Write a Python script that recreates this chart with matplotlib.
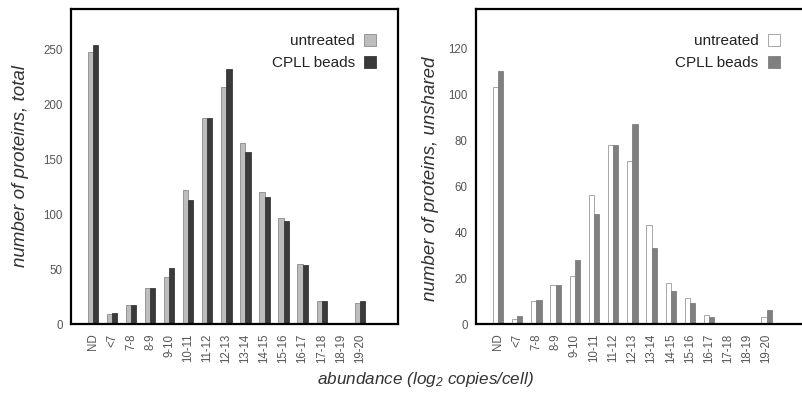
import numpy as np
import matplotlib
matplotlib.use("Agg")
import matplotlib.pyplot as plt

plt.rcParams['font.family'] = ['Liberation Sans', 'DejaVu Sans']
plt.rcParams['mathtext.default'] = 'regular'

# abundance bins (log2 copies/cell)
bins = ['ND', '<7', '7-8', '8-9', '9-10', '10-11', '11-12', '12-13', '13-14',
        '14-15', '15-16', '16-17', '17-18', '18-19', '19-20']

# total proteins per bin
total_untreated = [248, 9, 17, 33, 43, 122, 188, 216, 165, 120, 97, 55, 21, 0, 19]
total_cpll = [254, 10, 17, 33, 51, 113, 188, 232, 157, 116, 94, 54, 21, 0, 21]

# unshared proteins per bin
unshared_untreated = [103, 2, 10, 17, 21, 56, 78, 71, 43, 18, 11.5, 4, 0, 0, 3]
unshared_cpll = [110, 3.5, 10.5, 17, 28, 48, 78, 87, 33, 14.5, 9, 3, 0, 0, 6]

fig = plt.figure(figsize=(8.03, 4.04), dpi=100)
ax1 = fig.add_axes([0.0884, 0.198, 0.4072, 0.7797])
ax2 = fig.add_axes([0.5928, 0.198, 0.4097, 0.7797])

x = np.arange(len(bins))
w = 0.27


def draw(ax, a, b, ca, cb, ea, ylim, yticks, ylabel, ylab_y, leg_anchor):
    ax.bar(x - w / 2, a, w, color=ca, edgecolor=ea, linewidth=0.6, label='untreated')
    ax.bar(x + w / 2, b, w, color=cb, edgecolor=cb, linewidth=0.6, label='CPLL beads')
    ax.set_xlim(-1.15, 16.0)
    ax.set_ylim(*ylim)
    ax.set_yticks(yticks)
    ax.set_xticks(x)
    ax.set_xticklabels(bins, rotation=90)
    ax.tick_params(axis='both', length=0, labelsize=8.3, colors='#555555')
    ax.tick_params(axis='x', pad=7)
    ax.tick_params(axis='y', pad=6)
    for s in ax.spines.values():
        s.set_linewidth(1.6)
        s.set_color('black')
    ax.set_ylabel(ylabel, fontsize=13.5, style='italic', color='#333333')
    ax.yaxis.set_label_coords(*ylab_y)
    ax.legend(loc='upper right', bbox_to_anchor=leg_anchor, frameon=False,
              markerfirst=False, fontsize=11, handlelength=0.8, handleheight=0.8,
              handletextpad=0.6, labelspacing=0.5, borderpad=0, borderaxespad=0,
              labelcolor='#222222')


draw(ax1, total_untreated, total_cpll, '#bdbdbd', '#3a3a3a', '#8a8a8a',
     (0, 287), [0, 50, 100, 150, 200, 250], 'number of proteins, total',
     (-0.128, 0.5), (0.933, 0.92))
draw(ax2, unshared_untreated, unshared_cpll, 'white', '#7f7f7f', '#999999',
     (0, 137), [0, 20, 40, 60, 80, 100, 120], 'number of proteins, unshared',
     (-0.112, 0.46), (0.924, 0.92))
ax2.spines['right'].set_visible(False)

fig.text(0.53, 0.06, 'abundance (log$_2$ copies/cell)', fontsize=12.3,
         style='italic', ha='center', va='center', color='#333333')

plt.savefig('out.png', dpi=100)
